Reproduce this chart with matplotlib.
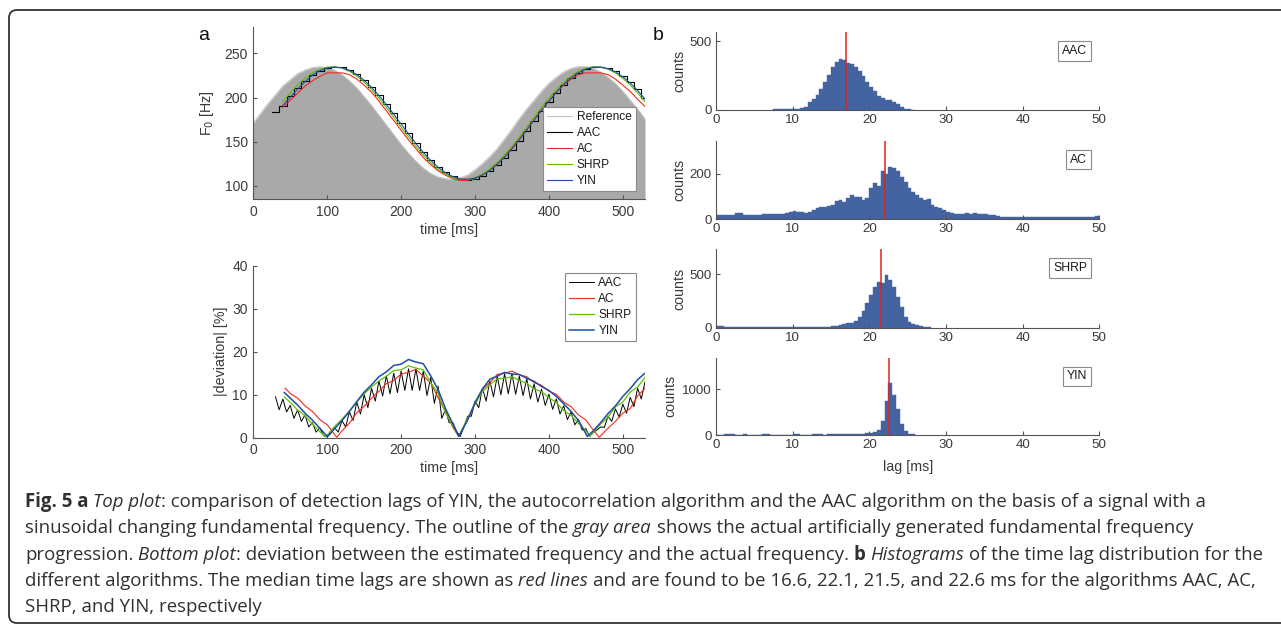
import matplotlib
matplotlib.use('Agg')
import matplotlib.pyplot as plt
from matplotlib.patches import FancyBboxPatch

plt.rcParams['font.family'] = ['Liberation Sans', 'DejaVu Sans']
plt.rcParams['font.stretch'] = 'normal'

W, H = 1281, 626

# --- DATA ---
# reference F0 (outline of the gray area), every 10 ms
REF_T = list(range(0, 540, 10))
REF_F = [171, 182, 193, 203, 213, 220, 227, 231, 234, 235, 234, 231, 226, 219, 211, 201,
         191, 180, 169, 158, 147, 137, 128, 120, 114, 110, 108, 107, 109, 112, 118, 125,
         133, 142, 153, 164, 176, 187, 197, 207, 216, 223, 229, 233, 235, 235, 233, 229,
         223, 216, 207, 197, 187, 176]

# estimated F0 tracks
AAC_T = list(range(25, 545, 10))
AAC_F = [184.0, 191.0, 201.4, 210.8, 218.9, 225.6, 230.6, 233.8, 235.0, 234.2, 231.4, 226.8,
         220.4, 212.5, 203.3, 193.1, 182.2, 171.0, 159.8, 148.9, 138.7, 129.5, 121.6, 115.2,
         110.6, 107.8, 107.0, 108.2, 111.4, 116.4, 123.1, 131.2, 140.6, 151.0, 162.0, 173.3,
         184.4, 195.2, 205.1, 214.1, 221.8, 227.9, 232.2, 234.5, 234.9, 233.3, 229.7, 224.4,
         217.5, 209.3, 200.0, 188.8]
EST_T = list(range(40, 540, 10))
AC_F = [189, 197, 205, 213, 219, 224, 228, 228, 228, 226, 221, 214, 206, 196, 185, 174,
        163, 152, 142, 132, 124, 117, 112, 108, 106, 106, 108, 113, 118, 125, 134, 143,
        153, 164, 175, 186, 196, 206, 214, 221, 226, 228, 228, 228, 226, 221, 214, 207,
        198, 190]
SHRP_F = [195.2, 205.3, 214.2, 221.8, 227.9, 232.1, 234.5, 234.9, 233.3, 229.8, 224.5, 217.5,
          209.0, 199.4, 188.9, 177.8, 166.5, 155.4, 144.7, 134.9, 126.2, 118.8, 113.1, 109.2,
          107.2, 107.3, 109.3, 113.2, 119.0, 126.3, 134.9, 144.7, 155.4, 166.5, 177.8, 188.9,
          199.4, 209.0, 217.5, 224.5, 229.8, 233.3, 234.9, 234.5, 232.1, 227.9, 221.8, 214.2,
          205.3, 195.2]
YIN_F = [191.0, 200.5, 209.5, 218.0, 225.5, 230.5, 233.5, 234.6, 233.8, 230.9, 226.1, 219.6,
         211.6, 202.3, 192.1, 181.1, 169.9, 158.7, 147.9, 137.8, 128.8, 121.0, 114.8, 110.4,
         107.8, 107.3, 108.7, 112.0, 117.3, 124.1, 132.3, 141.8, 152.2, 163.2, 174.4, 185.6,
         196.2, 206.1, 214.9, 222.4, 228.2, 232.2, 234.4, 234.6, 232.8, 229.2, 223.6, 216.5,
         208.0, 198.2]

# |deviation| in percent
DEV_AAC_T = list(range(30, 535, 5))
DEV_AAC = [9.5, 6.5, 9.0, 6.0, 7.5, 4.5, 6.5, 3.8, 5.3, 2.5,
           3.5, 1.3, 2.3, 0.5, 0.2, 1.0, 2.3, 1.3, 4.0, 2.5,
           6.0, 4.0, 8.3, 5.5, 10.0, 7.0, 11.5, 8.5, 13.2, 9.7,
           14.4, 10.2, 15.0, 10.5, 15.5, 11.0, 16.0, 11.0, 16.0, 11.0,
           15.5, 9.8, 14.0, 8.0, 12.0, 4.5, 6.5, 3.5, 3.5, 1.5,
           0.3, 2.5, 5.0, 5.0, 8.5, 7.0, 11.5, 8.5, 13.2, 9.5,
           14.3, 10.0, 14.9, 10.2, 14.9, 10.1, 14.3, 9.8, 13.7, 9.0,
           12.5, 8.3, 11.3, 7.5, 10.1, 6.6, 9.0, 5.5, 7.4, 4.2,
           6.0, 3.0, 4.2, 1.8, 2.1, 0.3, 1.2, 1.8, 2.5, 2.4,
           5.0, 3.8, 6.7, 4.8, 7.8, 5.7, 9.4, 7.2, 11.5, 9.0,
           13.0]
DEV_AC_T = [43, 50, 60, 70, 80, 90, 100, 113, 120, 130, 140, 150, 160, 170, 180, 190, 200,
            210, 220, 230, 240, 250, 260, 270, 278, 290, 300, 310, 320, 330, 340, 350, 360,
            370, 380, 390, 400, 410, 420, 430, 440, 450, 460, 468, 480, 490, 500, 510, 520, 530]
DEV_AC = [11.5, 10.3, 9.2, 7.4, 6.1, 4.2, 3.0, 0.1, 1.6, 3.4, 5.8, 7.3, 9.2, 10.8, 12.6, 13.3,
          14.8, 15.2, 15.9, 14.3, 12.8, 9.3, 6.2, 2.4, 0.3, 4.2, 7.8, 11.2, 12.8, 14.7, 15.0,
          15.5, 14.6, 14.2, 12.8, 12.2, 10.8, 10.1, 8.3, 7.2, 5.3, 4.1, 1.8, 0.1, 2.2, 3.8,
          5.7, 6.8, 9.7, 11.5]
DEV_SHRP_T = [42, 50, 60, 70, 80, 90, 98, 110, 120, 130, 140, 150, 160, 170, 180, 190, 200,
              210, 220, 230, 240, 250, 260, 270, 278, 290, 300, 310, 320, 330, 340, 350, 360,
              370, 380, 390, 400, 410, 420, 430, 440, 450, 455, 470, 480, 490, 500, 510, 520, 530]
DEV_SHRP = [9.5, 8.2, 6.4, 5.1, 3.2, 1.4, 0.2, 2.6, 4.3, 6.2, 8.3, 10.2, 11.8, 13.2, 14.3, 15.6,
            15.8, 16.7, 16.2, 15.8, 12.8, 10.3, 5.8, 2.7, 0.3, 4.6, 7.8, 10.7, 12.3, 13.7, 13.8,
            14.2, 13.3, 12.7, 11.3, 10.7, 9.3, 8.2, 6.3, 5.2, 3.3, 1.6, 0.3, 3.2, 4.8, 7.2,
            8.3, 10.6, 11.8, 14.0]
DEV_YIN_T = [42, 50, 60, 70, 80, 90, 100, 110, 120, 130, 140, 150, 160, 170, 180, 190, 200,
             210, 220, 230, 240, 250, 260, 270, 278, 290, 300, 310, 320, 330, 340, 350, 360,
             370, 380, 390, 400, 410, 420, 430, 440, 452, 460, 470, 480, 490, 500, 510, 520, 530]
DEV_YIN = [10.5, 9.2, 7.6, 5.7, 4.1, 2.2, 0.3, 2.1, 4.0, 6.1, 8.4, 10.6, 12.3, 14.2, 15.3, 16.8,
           17.1, 18.2, 17.6, 17.2, 14.4, 11.2, 6.8, 3.2, 0.3, 4.1, 8.2, 11.3, 13.6, 14.3, 15.2,
           14.8, 14.7, 13.8, 13.1, 11.9, 11.0, 9.6, 7.9, 6.1, 4.0, 0.3, 1.6, 3.5, 5.6, 7.4,
           9.6, 11.4, 13.5, 15.0]

# lag histograms, 0.5 ms bins, each list starts at its HIST_START
BIN_W = 0.5
HIST_NAMES = ['AAC', 'AC', 'SHRP', 'YIN']
HIST_START = [7.5, 0.0, 0.0, 0.0]
HIST_AAC = [4, 4, 4, 4, 5, 6, 10, 15, 25, 60, 80, 110, 150, 200, 255, 310, 350, 370, 365, 345,
            335, 310, 285, 250, 205, 170, 135, 105, 90, 75, 70, 55, 40, 25, 10, 5, 3]
HIST_AC = [18, 20, 20, 20, 18, 28, 28, 18, 17, 18, 20, 18, 22, 22, 22, 22, 23, 25, 27, 30,
           37, 33, 30, 28, 30, 40, 48, 55, 55, 58, 62, 80, 85, 78, 95, 105, 100, 98, 85, 95,
           140, 158, 148, 212, 200, 230, 225, 212, 188, 165, 140, 120, 105, 95, 85, 88, 65, 55, 48, 40,
           30, 28, 25, 25, 25, 28, 25, 28, 25, 22, 22, 20, 18, 15, 12, 12, 12, 12, 12, 12,
           12, 12, 12, 12, 12, 12, 12, 12, 12, 12, 12, 12, 12, 12, 12, 12, 12, 10, 8, 15]
HIST_SHRP = [15, 12, 5, 5, 5, 5, 5, 5, 8, 10, 10, 8, 8, 6, 6, 6, 6, 6, 5, 5,
             8, 8, 8, 8, 8, 8, 8, 8, 8, 8, 12, 18, 25, 32, 40, 48, 65, 100, 160, 235,
             305, 385, 428, 420, 490, 450, 380, 290, 190, 105, 55, 35, 25, 15, 10, 5]
HIST_YIN = [10, 10, 12, 15, 12, 10, 10, 15, 10, 8, 10, 10, 15, 15, 10, 8, 8, 8, 8, 10,
            15, 15, 8, 8, 10, 12, 15, 12, 10, 12, 15, 12, 12, 15, 15, 15, 18, 20, 25, 35,
            45, 55, 100, 300, 750, 1130, 870, 560, 250, 90, 30, 12]
HIST_MEDIAN = [16.9, 22.1, 21.5, 22.6]
HIST_YTICKS = [[0, 500], [0, 200], [0, 500], [0, 1000]]
HIST_YMAX = [565, 345, 735, 1690]

# --- STYLE ---
GRAY_FILL = '#a9a9a9'
REF_COL = '#c4c4c4'
COLORS = {'AAC': '#000000', 'AC': '#f2291b', 'SHRP': '#5fc000', 'YIN': '#1f4ea8'}
HIST_COL = '#4363a1'
MED_COL = '#e0231a'
AX_COL = '#555555'
TXT_COL = '#3a3a3a'
CAP_COL = '#303030'
CAP_FONT = 'Open Sans'
TICK_FS = 10.0
LABEL_FS = 10.3
LEG_FS = 8.6


def px_axes(fig, x0, y0, x1, y1):
    return fig.add_axes([x0 / W, 1 - y1 / H, (x1 - x0) / W, (y1 - y0) / H])


def matlab_style(ax):
    for s in ('top', 'right'):
        ax.spines[s].set_visible(False)
    for s in ('left', 'bottom'):
        ax.spines[s].set_color(AX_COL)
        ax.spines[s].set_linewidth(0.8)
    ax.tick_params(direction='in', length=3, width=0.8, color=AX_COL,
                   labelcolor=TXT_COL, labelsize=TICK_FS, pad=4)
    ax.set_facecolor('none')


def matlab_legend(ax, **kw):
    leg = ax.legend(fontsize=LEG_FS, fancybox=False, framealpha=1, edgecolor='#8a8a8a',
                    handlelength=2.1, handletextpad=0.35, labelspacing=0.32,
                    borderpad=0.35, borderaxespad=0, **kw)
    leg.get_frame().set_linewidth(0.8)
    for t in leg.get_texts():
        t.set_color('#1a1a1a')
    return leg


fig = plt.figure(figsize=(W / 100, H / 100), dpi=100)

# outer rounded frame (runs off the right edge like in the source)
frame = FancyBboxPatch((9, 3), 1320, 613, boxstyle='round,pad=0,rounding_size=8',
                       transform=None, facecolor='none', edgecolor='#333333', lw=1.3)
fig.add_artist(frame)

# --- a, top: F0 tracks ---
ax1 = px_axes(fig, 253.3, 27, 645, 199)
ax1.fill_between(REF_T, REF_F, 0, color=GRAY_FILL, lw=0, zorder=0)
ax1.plot(REF_T, REF_F, color=REF_COL, lw=0.8, label='Reference', zorder=1)
ax1.step(AAC_T, AAC_F, where='post', color=COLORS['AAC'], lw=0.8, label='AAC')
ax1.plot(EST_T, AC_F, color=COLORS['AC'], lw=0.8, label='AC')
ax1.plot(EST_T, SHRP_F, color=COLORS['SHRP'], lw=0.8, label='SHRP')
ax1.plot(EST_T, YIN_F, color=COLORS['YIN'], lw=0.8, label='YIN')
ax1.set_xlim(0, 530)
ax1.set_ylim(85, 280)
ax1.set_xticks(range(0, 600, 100))
ax1.set_yticks([100, 150, 200, 250])
matlab_style(ax1)
ax1.set_xlabel('time [ms]', fontsize=LABEL_FS, color=TXT_COL)
ax1.set_ylabel('F$_0$ [Hz]', fontsize=LABEL_FS, color=TXT_COL)
ax1.xaxis.set_label_coords(0.5, -0.14)
ax1.yaxis.set_label_coords(-0.095, 0.5)
matlab_legend(ax1, loc='lower right', bbox_to_anchor=(0.976, 0.047))

# --- a, bottom: deviation ---
ax2 = px_axes(fig, 253.3, 265.7, 645, 437.7)
ax2.plot(DEV_AAC_T, DEV_AAC, color=COLORS['AAC'], lw=0.7, label='AAC')
ax2.plot(DEV_AC_T, DEV_AC, color=COLORS['AC'], lw=0.8, label='AC')
ax2.plot(DEV_SHRP_T, DEV_SHRP, color=COLORS['SHRP'], lw=0.9, label='SHRP')
ax2.plot(DEV_YIN_T, DEV_YIN, color=COLORS['YIN'], lw=1.1, label='YIN')
ax2.set_xlim(0, 530)
ax2.set_ylim(0, 40)
ax2.set_xticks(range(0, 600, 100))
ax2.set_yticks(range(0, 50, 10))
matlab_style(ax2)
ax2.set_xlabel('time [ms]', fontsize=LABEL_FS, color=TXT_COL)
ax2.set_ylabel('|deviation| [%]', fontsize=LABEL_FS, color=TXT_COL)
ax2.xaxis.set_label_coords(0.5, -0.135)
ax2.yaxis.set_label_coords(-0.065, 0.5)
matlab_legend(ax2, loc='upper right', bbox_to_anchor=(0.976, 0.956))

# --- b: lag histograms ---
hist_rows = [(32.3, 110), (141, 219.3), (249.3, 327.7), (357.7, 435)]
hist_data = [HIST_AAC, HIST_AC, HIST_SHRP, HIST_YIN]
for i, (y0, y1) in enumerate(hist_rows):
    ax = px_axes(fig, 716, y0, 1099.3, y1)
    counts = hist_data[i]
    edges = [HIST_START[i] + k * BIN_W for k in range(len(counts))]
    ax.bar(edges, counts, width=BIN_W, align='edge', color=HIST_COL,
           edgecolor=HIST_COL, lw=0.3)
    ax.axvline(HIST_MEDIAN[i], color=MED_COL, lw=1.1)
    ax.set_xlim(0, 50)
    ax.set_ylim(0, HIST_YMAX[i])
    ax.set_xticks(range(0, 60, 10))
    ax.set_yticks(HIST_YTICKS[i])
    matlab_style(ax)
    ax.tick_params(pad=3, labelsize=9.6)
    ax.set_ylabel('counts', fontsize=LABEL_FS, color=TXT_COL)
    # the 4-digit tick on the last panel pushes its label further left
    ax.yaxis.set_label_coords(-0.1 if i == 3 else -0.078, 0.5)
    ax.text(0.968, 0.76, HIST_NAMES[i], transform=ax.transAxes, ha='right', va='center',
            fontsize=8.8, color='#1a1a1a',
            bbox=dict(boxstyle='square,pad=0.3', fc='white', ec='#8a8a8a', lw=0.8))
    if i == 3:
        ax.set_xlabel('lag [ms]', fontsize=LABEL_FS, color=TXT_COL)
        ax.xaxis.set_label_coords(0.5, -0.32)

fig.text(204 / W, 1 - 36 / H, 'a', fontsize=14, ha='center', va='center', color='#111111')
fig.text(658 / W, 1 - 36 / H, 'b', fontsize=14, ha='center', va='center', color='#111111')

# --- caption, mixed bold / italic runs laid out side by side ---
CAPTION = [
    [('Fig. 5 a', 'b'), (' ', 'r'), ('Top plot', 'i'),
     (': comparison of detection lags of YIN, the autocorrelation algorithm and the AAC '
      'algorithm on the basis of a signal with a', 'r')],
    [('sinusoidal changing fundamental frequency. The outline of the ', 'r'), ('gray area', 'i'),
     (' shows the actual artificially generated fundamental frequency', 'r')],
    [('progression. ', 'r'), ('Bottom plot', 'i'),
     (': deviation between the estimated frequency and the actual frequency. ', 'r'),
     ('b', 'b'), (' ', 'r'), ('Histograms', 'i'),
     (' of the time lag distribution for the', 'r')],
    [('different algorithms. The median time lags are shown as ', 'r'), ('red lines', 'i'),
     (' and are found to be 16.6, 22.1, 21.5, and 22.6 ms for the algorithms AAC, AC,', 'r')],
    [('SHRP, and YIN, respectively', 'r')],
]
CAP_BASELINES = [507, 533, 560, 586, 612]
CAP_X = 25
# right ends of lines 1, 3 and 4 in the source, used to size the caption font
CAP_LINE_ENDS = {0: 1219, 2: 1260, 3: 1247}

renderer = fig.canvas.get_renderer()


def cap_kw(style, size):
    kw = dict(fontsize=size, color=CAP_COL, family=[CAP_FONT, 'DejaVu Sans'],
              ha='left', va='baseline')
    if style == 'b':
        kw['fontweight'] = 'bold'
    if style == 'i':
        kw['fontstyle'] = 'italic'
    return kw


def run_width(s, kw):
    t = fig.text(0, 0, s, **kw)
    w = t.get_window_extent(renderer).width
    t.remove()
    return w


def caption_line(parts, size, y=None):
    x = CAP_X
    for s, st in parts:
        kw = cap_kw(st, size)
        sp = run_width('x x', kw) - run_width('xx', kw)
        body = s.strip(' ')
        x += sp * (len(s) - len(s.lstrip(' ')))
        if body:
            if y is None:
                x += run_width(body, kw)
            else:
                t = fig.text(x / W, 1 - y / H, body, **kw)
                x += t.get_window_extent(renderer).width
            x += sp * (len(s) - len(s.rstrip(' ')))
    return x


base = 10.0
measured = sum(caption_line(CAPTION[k], base) - CAP_X for k in CAP_LINE_ENDS)
target = sum(end - CAP_X for end in CAP_LINE_ENDS.values())
cap_size = base * target / measured
for parts, yb in zip(CAPTION, CAP_BASELINES):
    caption_line(parts, cap_size, yb)

fig.savefig('out.png', dpi=100)
